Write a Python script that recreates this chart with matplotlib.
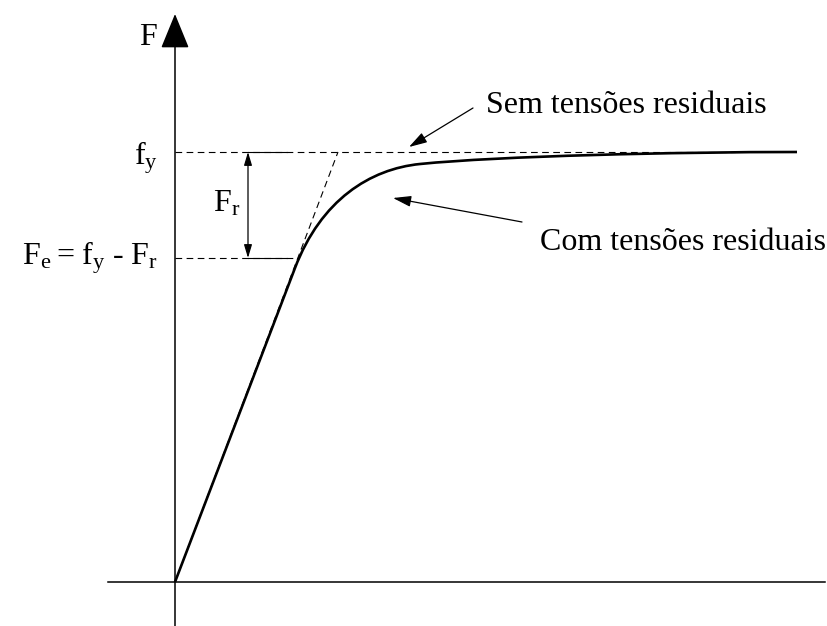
import matplotlib.pyplot as plt
from matplotlib.path import Path
from matplotlib.patches import PathPatch

plt.rcParams['font.family'] = ['Liberation Serif', 'DejaVu Serif']
plt.rcParams['mathtext.fontset'] = 'custom'
plt.rcParams['mathtext.rm'] = 'Liberation Serif'

# valores (x = deformacao, y = tensao, unidades arbitrarias)
fy = 430
Fe = 324
x_elastico = [0, 163]          # reta elastica (sem tensoes residuais)
y_elastico = [0, fy]
# curva com tensoes residuais: trecho reto + dois trechos de Bezier (pontos de controle)
x_curva = [0, 120, 146, 195, 245, 325, 500, 622]
y_curva = [0, 314, 382, 413, 418, 426, 430, 430]
x_fy_fim = 560
x_Fe_fim = 123

fig = plt.figure(figsize=(8.27, 6.26), dpi=100)
ax = fig.add_axes([0, 0, 1, 1])
ax.set_xlim(-175, 652)
ax.set_ylim(-44, 582)
ax.axis('off')

# eixos
ax.plot([-67, 650], [0, 0], color='black', lw=1.1)
ax.annotate('', xy=(0, 568), xytext=(0, -44),
            arrowprops=dict(arrowstyle='-|>,head_length=1.1,head_width=0.45',
                            mutation_scale=20, lw=1.1, color='black',
                            shrinkA=0, shrinkB=0))

# linhas tracejadas
dash = (0, (6, 4))
ax.plot([0, x_fy_fim], [fy, fy], color='black', lw=0.8, linestyle=dash)
ax.plot([0, x_Fe_fim], [Fe, Fe], color='black', lw=0.8, linestyle=dash)
ax.plot(x_elastico, y_elastico, color='black', lw=0.8, linestyle=dash)

# curva com tensoes residuais
codes = [Path.MOVETO, Path.LINETO] + [Path.CURVE4] * 6
curva = Path(list(zip(x_curva, y_curva)), codes)
ax.add_patch(PathPatch(curva, facecolor='none', edgecolor='black', lw=1.9,
                       capstyle='butt'))

# cota Fr
ax.plot([73, 112], [fy, fy], color='black', lw=0.8)
ax.plot([73, 112], [Fe, Fe], color='black', lw=0.8)
ax.annotate('', xy=(73, fy), xytext=(73, Fe),
            arrowprops=dict(arrowstyle='<|-|>,head_length=1.0,head_width=0.3',
                            mutation_scale=8, lw=0.9, color='black',
                            shrinkA=0, shrinkB=0))

# setas das legendas
seta = dict(arrowstyle='-|>,head_length=1.0,head_width=0.3', mutation_scale=11,
            lw=0.9, color='black', shrinkA=0, shrinkB=0)
ax.annotate('', xy=(234, 435), xytext=(298, 474), arrowprops=seta)
ax.annotate('', xy=(218, 384), xytext=(347, 360), arrowprops=seta)

fs = 23
ax.text(-18, 537, 'F', fontsize=fs, ha='right', va='baseline')
ax.text(-17, 417, r'$\mathrm{f_y}$', fontsize=fs, ha='right', va='baseline')
ax.text(-17, 317, r'$\mathrm{F_e = f_y}$ - $\mathrm{F_r}$', fontsize=fs,
        ha='right', va='baseline')
ax.text(38, 371, r'$\mathrm{F_r}$', fontsize=fs, ha='left', va='baseline')
ax.text(311, 469, 'Sem tensões residuais', fontsize=fs, ha='left', va='baseline')
ax.text(365, 332, 'Com tensões residuais', fontsize=fs, ha='left', va='baseline')

plt.savefig('out.png', dpi=100)
